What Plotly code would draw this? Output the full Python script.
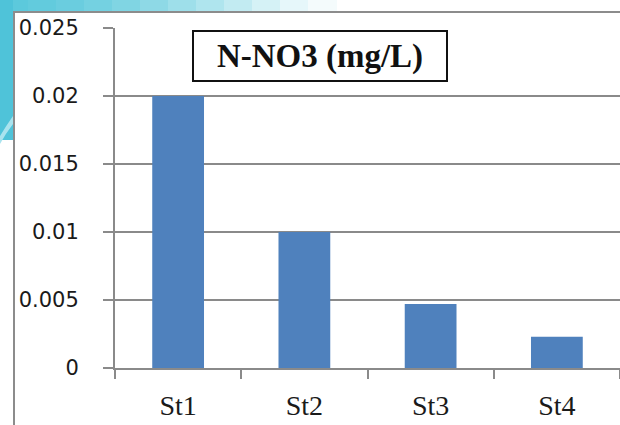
import plotly.graph_objects as go

# ---- data ----
stations = ["St1", "St2", "St3", "St4"]
no3_values = [0.020, 0.010, 0.0047, 0.0023]
y_ticks = [0, 0.005, 0.01, 0.015, 0.02, 0.025]
y_tick_text = ["0", "0.005", "0.01", "0.015", "0.02", "0.025"]
title_text = "N-NO3 (mg/L)"

W, H = 620, 425
ML, MR, MT, MB = 115, 0, 28, 57
PW = W - ML - MR
PH = H - MT - MB


def px(xp):
    return (xp - ML) / PW


def py(yp):
    return (H - MB - yp) / PH


fig = go.Figure()
fig.add_trace(go.Bar(
    x=stations, y=no3_values,
    marker=dict(color="#4F81BD", line=dict(width=0)),
    showlegend=False,
))

grid_col = "#8A8A8A"
shapes = []

# decorative cyan background strips (top-left swoosh)
cyan_steps = ["#5CC9DC", "#62CBDD", "#6ACDDF", "#74D1E1", "#80D5E3", "#8ED9E6",
              "#9EDFEA", "#AFE5EE", "#C2EBF2", "#D5F2F6", "#E6F7FA", "#F4FBFC"]
seg = 28
for i, c in enumerate(cyan_steps):
    shapes.append(dict(type="rect", xref="paper", yref="paper",
                       x0=px(i * seg), x1=px((i + 1) * seg + 1), y0=py(11), y1=py(0),
                       fillcolor=c, line=dict(width=0), layer="below"))
shapes.append(dict(type="rect", xref="paper", yref="paper",
                   x0=px(0), x1=px(13), y0=py(140), y1=py(0),
                   fillcolor="#4FC3D9", line=dict(width=0), layer="below"))
shapes.append(dict(type="path", xref="paper", yref="paper",
                   path=f"M {px(0)},{py(136)} Q {px(6)},{py(126)} {px(13)},{py(116)} "
                        f"L {px(13)},{py(124)} Q {px(6)},{py(133)} {px(0)},{py(144)} Z",
                   fillcolor="#A9E3EE", line=dict(width=0), layer="below"))

# outer chart border (left and top)
shapes.append(dict(type="line", xref="paper", yref="paper",
                   x0=px(14), x1=px(14), y0=py(11), y1=py(H),
                   line=dict(color="#8C8C8C", width=2)))
shapes.append(dict(type="line", xref="paper", yref="paper",
                   x0=px(13), x1=px(W), y0=py(12), y1=py(12),
                   line=dict(color="#8C8C8C", width=2)))

fig.update_layout(
    width=W, height=H,
    margin=dict(l=ML, r=MR, t=MT, b=MB),
    paper_bgcolor="white", plot_bgcolor="white",
    bargap=0.59,
    shapes=shapes,
    xaxis=dict(
        type="category",
        showline=True, linecolor=grid_col, linewidth=2,
        ticks="outside", tickson="boundaries", ticklen=9, tickcolor=grid_col, tickwidth=2,
        tickfont=dict(family="Liberation Serif", size=28, color="#1a1a1a"),
        ticklabelstandoff=11,
        showgrid=False, zeroline=False,
    ),
    yaxis=dict(
        range=[0, 0.025],
        tickvals=y_ticks, ticktext=y_tick_text,
        showline=True, linecolor=grid_col, linewidth=2,
        ticks="outside", ticklen=10, tickcolor=grid_col, tickwidth=2,
        showgrid=True, gridcolor=grid_col, gridwidth=2,
        zeroline=False,
        tickfont=dict(family="DejaVu Sans", size=21, color="#1a1a1a"),
        ticklabelstandoff=20,
    ),
    annotations=[dict(
        text="<b>" + title_text + "</b>",
        xref="paper", yref="paper",
        x=px(320), y=py(56), xanchor="center", yanchor="middle",
        showarrow=False,
        font=dict(family="Liberation Serif", size=33, color="#111111"),
        bgcolor="white", bordercolor="#111111", borderwidth=2, borderpad=2,
        width=248, height=44,
    )],
)

fig.write_html("out.html")
